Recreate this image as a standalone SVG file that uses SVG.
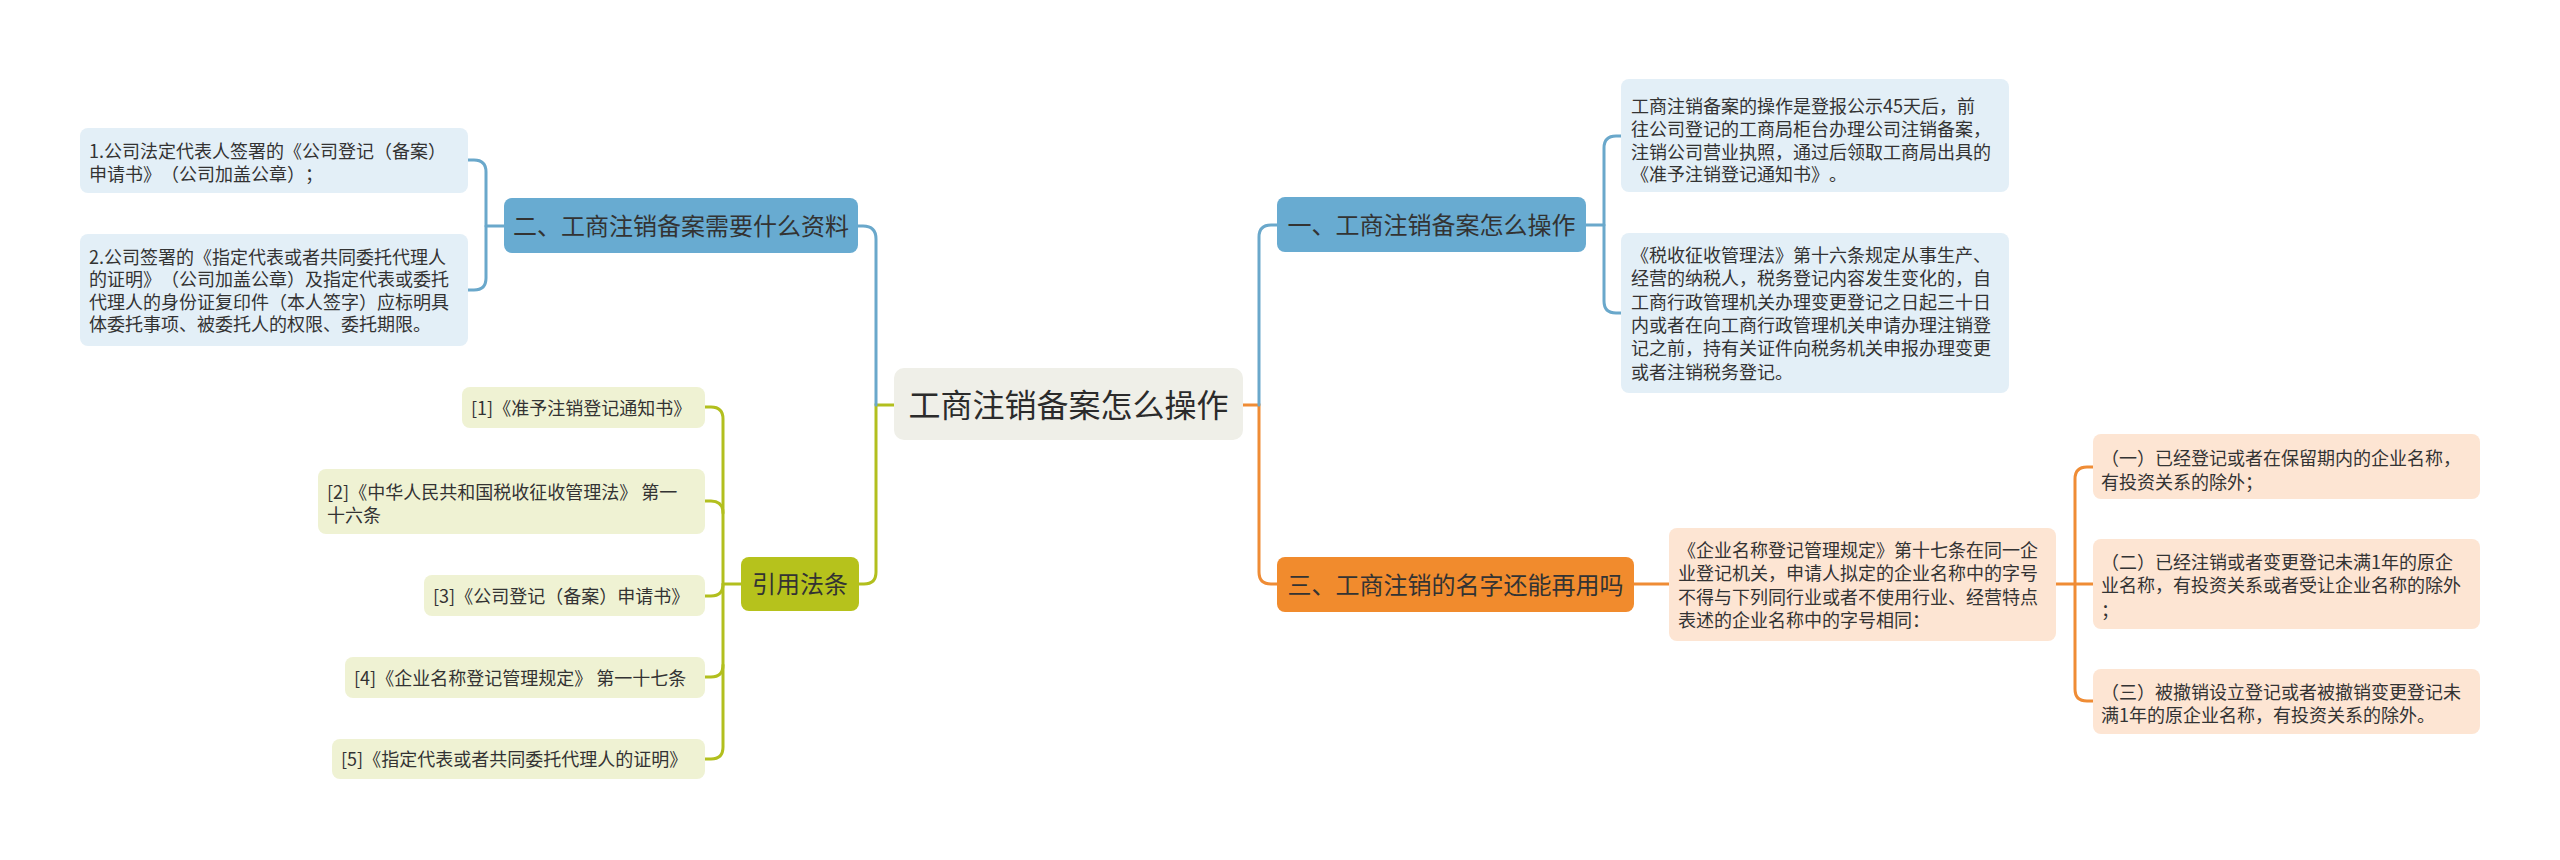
<svg xmlns="http://www.w3.org/2000/svg" width="2560" height="860" viewBox="0 0 2560 860">
<style>
text{font-family:"Noto Sans CJK SC","Microsoft YaHei",sans-serif;fill:#333;text-spacing-trim:space-all}
.leaf{font-size:18px}
.title{font-size:24px;text-anchor:middle}
.center{font-size:32px;text-anchor:middle;fill:#2b2b2b}
.bl{fill:#e3eff7}
.bn{fill:#68abd1}
.gl{fill:#eff2d3}
.gn{fill:#b6c21c}
.ol{fill:#fde5d3}
.on{fill:#f18b2d}
.c{fill:none;stroke-width:3;stroke-linecap:round}
.cb{stroke:#6aa8cb}
.cg{stroke:#b2bf1e}
.co{stroke:#ef8c35}
</style>
<rect width="2560" height="860" fill="#ffffff"/>
<g id="connectors">
<path class="c cg" d="M894 405 H876 V572 Q876 584 864 584 H859"/>
<path class="c cb" d="M876 405 V239 Q876 226 863 226 H858"/>
<path class="c co" d="M1243 405 H1259 V572 Q1259 584 1271 584 H1277"/>
<path class="c cb" d="M1259 405 V237 Q1259 225 1271 225 H1277"/>
<path class="c cb" d="M504 226 H486"/>
<path class="c cb" d="M468 160 H474 Q486 160 486 172 V278 Q486 290 474 290 H468"/>
<path class="c cg" d="M741 584 H723"/>
<path class="c cg" d="M705 407 H711 Q723 407 723 419 V747 Q723 759 711 759 H705"/>
<path class="c cg" d="M705 501 H711 Q723 501 723 513"/>
<path class="c cg" d="M705 596 H711 Q723 596 723 584"/>
<path class="c cg" d="M705 677 H711 Q723 677 723 665"/>
<path class="c cb" d="M1586 225 H1604"/>
<path class="c cb" d="M1621 136 H1616 Q1604 136 1604 148 V301 Q1604 313 1616 313 H1621"/>
<path class="c co" d="M1634 584 H1669"/>
<path class="c co" d="M2056 584 H2093"/>
<path class="c co" d="M2093 467 H2087 Q2075 467 2075 479 V689 Q2075 701 2087 701 H2093"/>
</g>
<g id="center">
<rect x="894" y="368" width="349" height="72" rx="10" fill="#efefe8"/>
<text class="center" x="1068.5" y="417">工商注销备案怎么操作</text>
</g>
<g id="n2">
<rect class="bn" x="504" y="198" width="354" height="55" rx="8"/>
<text class="title" x="681" y="234.5">二、工商注销备案需要什么资料</text>
</g>
<g id="n2-1">
<rect class="bl" x="80" y="128" width="388" height="65" rx="8"/>
<text class="leaf" x="89"><tspan x="89" y="157.5">1.公司法定代表人签署的《公司登记（备案）</tspan><tspan x="89" y="181">申请书》（公司加盖公章）；</tspan></text>
</g>
<g id="n2-2">
<rect class="bl" x="80" y="234" width="388" height="112" rx="8"/>
<text class="leaf" x="89"><tspan x="89" y="263.5">2.公司签署的《指定代表或者共同委托代理人</tspan><tspan x="89" y="286">的证明》（公司加盖公章）及指定代表或委托</tspan><tspan x="89" y="308.5">代理人的身份证复印件（本人签字）应标明具</tspan><tspan x="89" y="331">体委托事项、被委托人的权限、委托期限。</tspan></text>
</g>
<g id="ref">
<rect class="gn" x="741" y="557" width="118" height="54" rx="8"/>
<text class="title" x="800" y="593">引用法条</text>
</g>
<g id="ref-1">
<rect class="gl" x="462" y="387" width="243" height="41" rx="8"/>
<text class="leaf" x="471" y="414.5">[1]《准予注销登记通知书》</text>
</g>
<g id="ref-2">
<rect class="gl" x="318" y="469" width="387" height="65" rx="8"/>
<text class="leaf" x="327"><tspan x="327" y="498.7">[2]《中华人民共和国税收征收管理法》 第一</tspan><tspan x="327" y="522">十六条</tspan></text>
</g>
<g id="ref-3">
<rect class="gl" x="424" y="575" width="281" height="41" rx="8"/>
<text class="leaf" x="433" y="602.5">[3]《公司登记（备案）申请书》</text>
</g>
<g id="ref-4">
<rect class="gl" x="345" y="657" width="360" height="41" rx="8"/>
<text class="leaf" x="354" y="684.5">[4]《企业名称登记管理规定》 第一十七条</text>
</g>
<g id="ref-5">
<rect class="gl" x="332" y="739" width="373" height="40" rx="8"/>
<text class="leaf" x="341" y="766">[5]《指定代表或者共同委托代理人的证明》</text>
</g>
<g id="n1">
<rect class="bn" x="1277" y="197" width="309" height="55" rx="8"/>
<text class="title" x="1431.5" y="233.5">一、工商注销备案怎么操作</text>
</g>
<g id="n1-1">
<rect class="bl" x="1621" y="79" width="388" height="113" rx="8"/>
<text class="leaf" x="1631"><tspan x="1631" y="113">工商注销备案的操作是登报公示45天后，前</tspan><tspan x="1631" y="136">往公司登记的工商局柜台办理公司注销备案，</tspan><tspan x="1631" y="158.5">注销公司营业执照，通过后领取工商局出具的</tspan><tspan x="1631" y="181">《准予注销登记通知书》。</tspan></text>
</g>
<g id="n1-2">
<rect class="bl" x="1621" y="233" width="388" height="160" rx="8"/>
<text class="leaf" x="1631"><tspan x="1631" y="262">《税收征收管理法》第十六条规定从事生产、</tspan><tspan x="1631" y="285.3">经营的纳税人，税务登记内容发生变化的，自</tspan><tspan x="1631" y="308.6">工商行政管理机关办理变更登记之日起三十日</tspan><tspan x="1631" y="332">内或者在向工商行政管理机关申请办理注销登</tspan><tspan x="1631" y="355.3">记之前，持有关证件向税务机关申报办理变更</tspan><tspan x="1631" y="378.6">或者注销税务登记。</tspan></text>
</g>
<g id="n3">
<rect class="on" x="1277" y="557" width="357" height="55" rx="8"/>
<text class="title" x="1455.5" y="593.5">三、工商注销的名字还能再用吗</text>
</g>
<g id="n3-1">
<rect class="ol" x="1669" y="528" width="387" height="113" rx="8"/>
<text class="leaf" x="1678"><tspan x="1678" y="557">《企业名称登记管理规定》第十七条在同一企</tspan><tspan x="1678" y="580">业登记机关，申请人拟定的企业名称中的字号</tspan><tspan x="1678" y="604">不得与下列同行业或者不使用行业、经营特点</tspan><tspan x="1678" y="627">表述的企业名称中的字号相同：</tspan></text>
</g>
<g id="n3-1-1">
<rect class="ol" x="2093" y="434" width="387" height="65" rx="8"/>
<text class="leaf" x="2101"><tspan x="2101" y="464.5">（一）已经登记或者在保留期内的企业名称，</tspan><tspan x="2101" y="489">有投资关系的除外；</tspan></text>
</g>
<g id="n3-1-2">
<rect class="ol" x="2093" y="539" width="387" height="90" rx="8"/>
<text class="leaf" x="2101"><tspan x="2101" y="568.7">（二）已经注销或者变更登记未满1年的原企</tspan><tspan x="2101" y="592">业名称，有投资关系或者受让企业名称的除外</tspan><tspan x="2101" y="617">；</tspan></text>
</g>
<g id="n3-1-3">
<rect class="ol" x="2093" y="669" width="387" height="65" rx="8"/>
<text class="leaf" x="2101"><tspan x="2101" y="698.7">（三）被撤销设立登记或者被撤销变更登记未</tspan><tspan x="2101" y="722">满1年的原企业名称，有投资关系的除外。</tspan></text>
</g>
</svg>
